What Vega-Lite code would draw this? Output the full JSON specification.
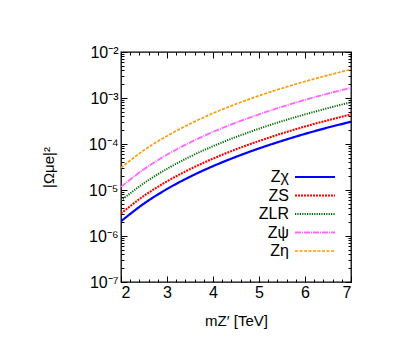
{
 "$schema": "https://vega.github.io/schema/vega-lite/v6.json",
 "width": 230, "height": 230,
 "autosize": "none",
 "padding": {"left": 121, "top": 52, "right": 64, "bottom": 64},
 "background": "white",
 "config": {
  "font": "Liberation Sans",
  "view": {"stroke": "black", "strokeWidth": 1.3},
  "axis": {"grid": false, "domain": false, "tickColor": "black", "tickWidth": 1, "labelColor": "black", "titleColor": "black", "labelFontSize": 15, "titleFontSize": 15, "titleFontWeight": "normal", "labelFont": "Liberation Sans", "titleFont": "Liberation Sans"}
 },
 "data": {"values": [
  {"m":2,"s":"Zχ","v":2.09e-6},{"m":2.5,"s":"Zχ","v":5.07e-6},{"m":3,"s":"Zχ","v":1.05e-5},{"m":3.5,"s":"Zχ","v":1.94e-5},{"m":4,"s":"Zχ","v":3.30e-5},{"m":4.5,"s":"Zχ","v":5.26e-5},{"m":5,"s":"Zχ","v":8.01e-5},{"m":5.5,"s":"Zχ","v":1.17e-4},{"m":6,"s":"Zχ","v":1.66e-4},{"m":6.5,"s":"Zχ","v":2.28e-4},{"m":7,"s":"Zχ","v":3.05e-4},
  {"m":2,"s":"ZS","v":3.09e-6},{"m":2.5,"s":"ZS","v":7.48e-6},{"m":3,"s":"ZS","v":1.54e-5},{"m":3.5,"s":"ZS","v":2.84e-5},{"m":4,"s":"ZS","v":4.81e-5},{"m":4.5,"s":"ZS","v":7.67e-5},{"m":5,"s":"ZS","v":1.16e-4},{"m":5.5,"s":"ZS","v":1.70e-4},{"m":6,"s":"ZS","v":2.40e-4},{"m":6.5,"s":"ZS","v":3.29e-4},{"m":7,"s":"ZS","v":4.42e-4},
  {"m":2,"s":"ZLR","v":5.89e-6},{"m":2.5,"s":"ZLR","v":1.41e-5},{"m":3,"s":"ZLR","v":2.89e-5},{"m":3.5,"s":"ZLR","v":5.30e-5},{"m":4,"s":"ZLR","v":8.95e-5},{"m":4.5,"s":"ZLR","v":1.42e-4},{"m":5,"s":"ZLR","v":2.15e-4},{"m":5.5,"s":"ZLR","v":3.13e-4},{"m":6,"s":"ZLR","v":4.40e-4},{"m":6.5,"s":"ZLR","v":6.03e-4},{"m":7,"s":"ZLR","v":8.05e-4},
  {"m":2,"s":"Zψ","v":1.17e-5},{"m":2.5,"s":"Zψ","v":2.84e-5},{"m":3,"s":"Zψ","v":5.85e-5},{"m":3.5,"s":"Zψ","v":1.08e-4},{"m":4,"s":"Zψ","v":1.83e-4},{"m":4.5,"s":"Zψ","v":2.91e-4},{"m":5,"s":"Zψ","v":4.42e-4},{"m":5.5,"s":"Zψ","v":6.44e-4},{"m":6,"s":"Zψ","v":9.10e-4},{"m":6.5,"s":"Zψ","v":1.25e-3},{"m":7,"s":"Zψ","v":1.67e-3},
  {"m":2,"s":"Zη","v":3.05e-5},{"m":2.5,"s":"Zη","v":7.35e-5},{"m":3,"s":"Zη","v":1.50e-4},{"m":3.5,"s":"Zη","v":2.75e-4},{"m":4,"s":"Zη","v":4.66e-4},{"m":4.5,"s":"Zη","v":7.40e-4},{"m":5,"s":"Zη","v":1.12e-3},{"m":5.5,"s":"Zη","v":1.63e-3},{"m":6,"s":"Zη","v":2.29e-3},{"m":6.5,"s":"Zη","v":3.13e-3},{"m":7,"s":"Zη","v":4.20e-3}
 ]},
 "layer": [
  {
   "mark": {"type": "line", "interpolate": "monotone", "clip": true},
   "encoding": {
    "x": {"field": "m", "type": "quantitative", "scale": {"domain": [2, 7], "nice": false, "zero": false},
          "axis": {"orient": "bottom", "values": [2,3,4,5,6,7], "tickSize": -6, "labelPadding": 8, "labelFontSize": 16, "title": "mZ′ [TeV]", "titleY": 38, "titleBaseline": "middle"}},
    "y": {"field": "v", "type": "quantitative", "scale": {"type": "log", "domain": [1e-7, 1e-2], "nice": false},
          "axis": {"orient": "left", "values": [1e-7,1e-6,1e-5,1e-4,1e-3,1e-2], "tickSize": -6, "labelPadding": 9, "labelFontSize": 16,
                   "labelExpr": "'10⁻' + ['⁰','¹','²','³','⁴','⁵','⁶','⁷','⁸','⁹'][-round(log(datum.value)/LN10)]",
                   "title": "|Ωμe|²", "titleX": -73, "titleY": 115, "titleAngle": 270, "titleBaseline": "middle", "titleAlign": "center"}},
    "color": {"field": "s", "type": "nominal",
              "scale": {"domain": ["Zχ","ZS","ZLR","Zψ","Zη"], "range": ["#0000ff","#ff0000","#006a00","#ff66ff","#ff9900"]},
              "legend": {"title": null, "orient": "none", "legendX": 186, "legendY": 117, "padding": 0, "symbolType": "M-4,0H4", "symbolSize": 100, "labelAlign": "right", "labelOffset": -34, "labelFontSize": 16, "labelColor": "black", "rowPadding": 2.5, "symbolFillColor": "transparent"}},
    "strokeDash": {"field": "s", "type": "nominal",
              "scale": {"domain": ["Zχ","ZS","ZLR","Zψ","Zη"], "range": [[1,0],[2,1],[1.2,1.2],[6,1,1,1],[3,1.5]]},
              "legend": {"title": null, "orient": "none", "legendX": 186, "legendY": 117, "padding": 0, "symbolType": "M-4,0H4", "symbolSize": 100, "labelAlign": "right", "labelOffset": -34, "labelFontSize": 16, "labelColor": "black", "rowPadding": 2.5, "symbolFillColor": "transparent"}},
    "strokeWidth": {"field": "s", "type": "nominal",
              "scale": {"domain": ["Zχ","ZS","ZLR","Zψ","Zη"], "range": [2.2,1.7,1.7,1.7,1.7]},
              "legend": {"title": null, "orient": "none", "legendX": 186, "legendY": 117, "padding": 0, "symbolType": "M-4,0H4", "symbolSize": 100, "labelAlign": "right", "labelOffset": -34, "labelFontSize": 16, "labelColor": "black", "rowPadding": 2.5, "symbolFillColor": "transparent"}}
   }
  },
  {
   "mark": {"type": "point", "opacity": 0},
   "encoding": {
    "x": {"field": "m", "type": "quantitative", "scale": {"domain": [2, 7], "nice": false, "zero": false},
          "axis": {"orient": "bottom", "values": [2.2,2.4,2.6,2.8,3.2,3.4,3.6,3.8,4.2,4.4,4.6,4.8,5.2,5.4,5.6,5.8,6.2,6.4,6.6,6.8], "tickSize": -3, "labels": false, "title": null}},
    "y": {"field": "v", "type": "quantitative", "scale": {"type": "log", "domain": [1e-7, 1e-2], "nice": false},
          "axis": {"orient": "left", "values": [2e-7,3e-7,4e-7,5e-7,6e-7,7e-7,8e-7,9e-7,2e-6,3e-6,4e-6,5e-6,6e-6,7e-6,8e-6,9e-6,2e-5,3e-5,4e-5,5e-5,6e-5,7e-5,8e-5,9e-5,2e-4,3e-4,4e-4,5e-4,6e-4,7e-4,8e-4,9e-4,2e-3,3e-3,4e-3,5e-3,6e-3,7e-3,8e-3,9e-3], "tickSize": -3, "labels": false, "title": null}}
   }
  },
  {
   "mark": {"type": "point", "opacity": 0},
   "encoding": {
    "x": {"field": "m", "type": "quantitative", "scale": {"domain": [2, 7], "nice": false, "zero": false},
          "axis": {"orient": "top", "values": [2,3,4,5,6,7], "tickSize": -6, "labels": false, "title": null}},
    "y": {"field": "v", "type": "quantitative", "scale": {"type": "log", "domain": [1e-7, 1e-2], "nice": false},
          "axis": {"orient": "right", "values": [1e-7,1e-6,1e-5,1e-4,1e-3,1e-2], "tickSize": -6, "labels": false, "title": null}}
   }
  },
  {
   "mark": {"type": "point", "opacity": 0},
   "encoding": {
    "x": {"field": "m", "type": "quantitative", "scale": {"domain": [2, 7], "nice": false, "zero": false},
          "axis": {"orient": "top", "values": [2.2,2.4,2.6,2.8,3.2,3.4,3.6,3.8,4.2,4.4,4.6,4.8,5.2,5.4,5.6,5.8,6.2,6.4,6.6,6.8], "tickSize": -3, "labels": false, "title": null}},
    "y": {"field": "v", "type": "quantitative", "scale": {"type": "log", "domain": [1e-7, 1e-2], "nice": false},
          "axis": {"orient": "right", "values": [2e-7,3e-7,4e-7,5e-7,6e-7,7e-7,8e-7,9e-7,2e-6,3e-6,4e-6,5e-6,6e-6,7e-6,8e-6,9e-6,2e-5,3e-5,4e-5,5e-5,6e-5,7e-5,8e-5,9e-5,2e-4,3e-4,4e-4,5e-4,6e-4,7e-4,8e-4,9e-4,2e-3,3e-3,4e-3,5e-3,6e-3,7e-3,8e-3,9e-3], "tickSize": -3, "labels": false, "title": null}}
   }
  }
 ],
 "resolve": {"axis": {"x": "independent", "y": "independent"}}
}
